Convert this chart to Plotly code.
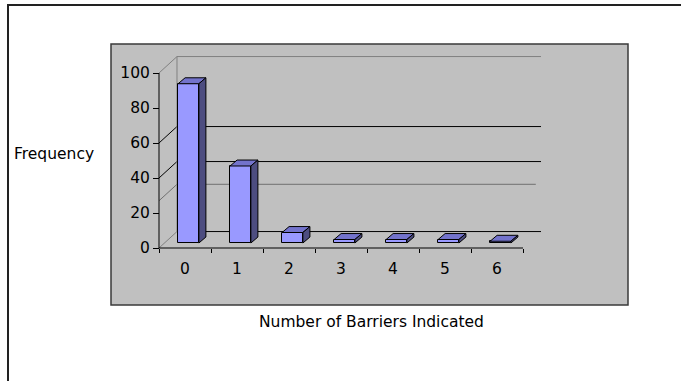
import plotly.graph_objects as go

# ---- data ----
categories = [0, 1, 2, 3, 4, 5, 6]
category_labels = ["0", "1", "2", "3", "4", "5", "6"]
frequency = [91, 44, 6, 2, 2, 2, 1]
y_ticks = [0, 20, 40, 60, 80, 100]

# ---- geometry (data units) ----
W, H = 681, 381
L_M, R_M, T_M, B_M = 111, 53, 44, 76
X_RANGE = [-1.423, 8.519]
Y_RANGE = [-32.57, 116.57]
FX, FY = 0.067, 2.86      # bar front face shift (depth)
BW = 0.40                 # bar width
SX, SY = 0.135, 3.4       # bar depth
BX, BY = 0.346, 9.4       # back wall depth
X_LO, X_HI = -0.5, 6.5

FONT = "DejaVu Sans"
FS = 15.5

fig = go.Figure()

# front faces
fig.add_trace(go.Bar(
    x=categories, y=frequency, base=[FY] * len(categories),
    offset=FX - BW / 2, width=BW,
    marker=dict(color="#9999FF", line=dict(color="black", width=1)),
    hoverinfo="skip", xaxis="x", yaxis="y"))

# top and side faces
top_x, top_y, side_x, side_y = [], [], [], []
for c, v in zip(categories, frequency):
    xl = c + FX - BW / 2
    xr = xl + BW
    yb = FY
    yt = FY + v
    top_x += [xl, xr, xr + SX, xl + SX, xl, None]
    top_y += [yt, yt, yt + SY, yt + SY, yt, None]
    side_x += [xr, xr + SX, xr + SX, xr, xr, None]
    side_y += [yb, yb + SY, yt + SY, yt, yb, None]

fig.add_trace(go.Scatter(x=top_x, y=top_y, mode="lines", fill="toself",
                         fillcolor="#7373CC", line=dict(color="black", width=1),
                         hoverinfo="skip", xaxis="x", yaxis="y"))
fig.add_trace(go.Scatter(x=side_x, y=side_y, mode="lines", fill="toself",
                         fillcolor="#4D4D80", line=dict(color="black", width=1),
                         hoverinfo="skip", xaxis="x", yaxis="y"))
# invisible trace to carry the label axis
fig.add_trace(go.Scatter(x=categories, y=[0] * len(categories), mode="markers",
                         marker=dict(opacity=0), hoverinfo="skip",
                         xaxis="x2", yaxis="y"))

shapes = []
# back wall / gridlines
grid = [(100, "#808080", X_HI + BX), (60, "black", X_HI + BX), (40, "black", X_HI + BX),
        (27, "#707070", X_HI + BX - 0.1), (0, "black", X_HI + BX)]
for lvl, col, xend in grid:
    shapes.append(dict(type="line", xref="x", yref="y", x0=X_LO, y0=lvl,
                       x1=X_LO + BX, y1=lvl + BY, line=dict(color=col if lvl not in (0,) else "#808080", width=1),
                       layer="below"))
    shapes.append(dict(type="line", xref="x", yref="y", x0=X_LO + BX, y0=lvl + BY,
                       x1=xend, y1=lvl + BY, line=dict(color=col, width=1), layer="below"))
shapes.append(dict(type="line", xref="x", yref="y", x0=X_LO + BX, y0=BY,
                   x1=X_LO + BX, y1=100 + BY, line=dict(color="#808080", width=1), layer="below"))
# front axis lines
shapes.append(dict(type="line", xref="x", yref="y", x0=X_LO, y0=0, x1=X_LO, y1=100,
                   line=dict(color="black", width=1)))
shapes.append(dict(type="line", xref="x", yref="y", x0=X_LO, y0=0, x1=X_HI, y1=0,
                   line=dict(color="black", width=1)))
# plot area border
shapes.append(dict(type="rect", xref="paper", yref="paper", x0=0, y0=0, x1=1, y1=1,
                   line=dict(color="#3a3a3a", width=1.5)))
# outer chart border
pw, ph = W - L_M - R_M, H - T_M - B_M
def px(xp): return (xp - L_M) / pw
def py(yp): return (H - B_M - yp) / ph
shapes.append(dict(type="rect", xref="paper", yref="paper", x0=px(8), y0=py(395),
                   x1=px(700), y1=py(5), line=dict(color="#222222", width=2)))

ax_pos_x = (X_LO - X_RANGE[0]) / (X_RANGE[1] - X_RANGE[0])
ax_pos_y = (0 - Y_RANGE[0]) / (Y_RANGE[1] - Y_RANGE[0])

fig.update_layout(
    width=W, height=H, margin=dict(l=L_M, r=R_M, t=T_M, b=B_M),
    paper_bgcolor="white", plot_bgcolor="#C0C0C0", showlegend=False,
    font=dict(family=FONT, size=FS, color="black"),
    bargap=0,
    xaxis=dict(range=X_RANGE, tickmode="array",
               tickvals=[X_LO + i for i in range(len(categories) + 1)],
               ticks="outside", ticklen=4, tickcolor="black", showticklabels=False,
               showgrid=False, zeroline=False, showline=False,
               anchor="free", position=ax_pos_y, fixedrange=True),
    xaxis2=dict(range=X_RANGE, overlaying="x", tickmode="array",
                tickvals=categories, ticktext=category_labels,
                ticks="outside", ticklen=6, tickcolor="rgba(0,0,0,0)",
                showgrid=False, zeroline=False, showline=False,
                anchor="free", position=ax_pos_y, side="bottom",
                tickfont=dict(family=FONT, size=FS)),
    yaxis=dict(range=Y_RANGE, tickmode="array", tickvals=y_ticks,
               ticks="outside", ticklen=6, tickcolor="black",
               showgrid=False, zeroline=False, showline=False,
               anchor="free", position=ax_pos_x,
               tickfont=dict(family=FONT, size=FS)),
    shapes=shapes,
    annotations=[
        dict(text="Frequency", xref="paper", yref="paper", x=px(12), y=py(154),
             xanchor="left", yanchor="middle", showarrow=False,
             font=dict(family=FONT, size=FS)),
        dict(text="Number of Barriers Indicated", xref="paper", yref="paper",
             x=px(371), y=py(322), xanchor="center", yanchor="middle",
             showarrow=False, font=dict(family=FONT, size=FS)),
    ],
)

fig.write_html("out.html")
